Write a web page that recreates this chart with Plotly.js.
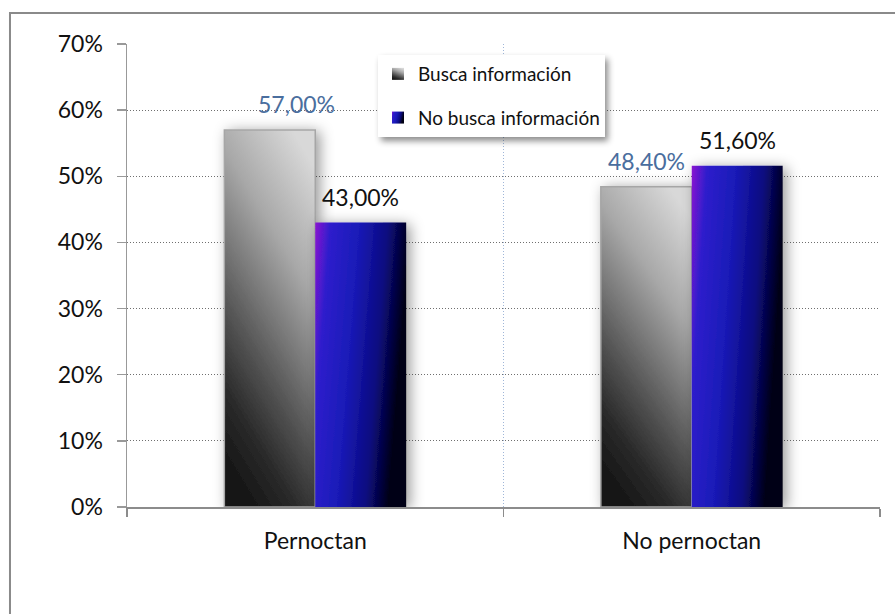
<!DOCTYPE html>
<html>
<head>
<meta charset="utf-8">
<script src="https://cdn.plot.ly/plotly-3.0.1.min.js"></script>
<style>
html,body{margin:0;padding:0;background:#fff;}
#chart{width:895px;height:614px;}
</style>
</head>
<body>
<div id="chart"></div>
<script>
// ---- data ----
var categories = ["Pernoctan", "No pernoctan"];
var seriesNames = ["Busca información", "No busca información"];
var buscaValues = [57.0, 48.4];
var noBuscaValues = [43.0, 51.6];
var yTickValues = [0, 10, 20, 30, 40, 50, 60, 70];
var yTickLabels = ["0%", "10%", "20%", "30%", "40%", "50%", "60%", "70%"];

// ---- style ----
var FONT = "Lato, 'Open Sans', sans-serif";
var BARGAP = 0.517;
var labelColors = ["#4a6e9e", "#111111"];
var labelXShift = [[27, 0], [0, 0]]; // per series, per category (px)

function fmt(v) { return v.toFixed(2).replace('.', ',') + '%'; }

var traces = [
  {
    type: 'bar', name: seriesNames[0], x: categories, y: buscaValues,
    legendgroup: 'a',
    marker: {color: '#808080', line: {color: '#a6a6a6', width: 1.5}},
    hoverinfo: 'skip'
  },
  {
    type: 'bar', name: seriesNames[1], x: categories, y: noBuscaValues,
    legendgroup: 'b',
    marker: {color: '#1a1ab0', line: {width: 0}},
    hoverinfo: 'skip'
  }
];

var halfOff = (1 - BARGAP) / 4;
var annotations = [];
[buscaValues, noBuscaValues].forEach(function (vals, s) {
  vals.forEach(function (v, i) {
    annotations.push({
      x: i + (s === 0 ? -halfOff : halfOff), y: v, xref: 'x', yref: 'y',
      text: fmt(v), showarrow: false, yanchor: 'middle', xanchor: 'center',
      yshift: 26, xshift: labelXShift[s][i],
      font: {family: FONT, size: 23, color: labelColors[s]}
    });
  });
});

var layout = {
  width: 895, height: 614,
  margin: {l: 127, r: 15, t: 44, b: 107, pad: 0},
  paper_bgcolor: '#ffffff', plot_bgcolor: '#ffffff',
  barmode: 'group', bargap: BARGAP, bargroupgap: 0,
  font: {family: FONT, size: 23, color: '#111111'},
  showlegend: true,
  legend: {
    x: 0.3333, y: 0.9762, xanchor: 'left', yanchor: 'top',
    bgcolor: '#ffffff', borderwidth: 0,
    font: {family: FONT, size: 19, color: '#111111'},
    tracegroupgap: 16, traceorder: 'grouped'
  },
  xaxis: {
    type: 'category', showline: true, linecolor: '#8c8c8c', linewidth: 2,
    ticks: 'outside', ticklen: 8, tickcolor: '#8c8c8c', tickwidth: 1.5,
    tickson: 'boundaries', showgrid: true, gridcolor: '#9fb6d8', griddash: '1px,2px', gridwidth: 1,
    ticklabelstandoff: 12, zeroline: false,
    tickfont: {family: FONT, size: 23, color: '#111111'}
  },
  yaxis: {
    range: [0, 70], tickvals: yTickValues, ticktext: yTickLabels,
    showline: true, linecolor: '#999999', linewidth: 1.5,
    ticks: 'outside', ticklen: 9, tickcolor: '#999999', tickwidth: 1.5,
    showgrid: true, gridcolor: '#6f6f6f', griddash: '1px,2px', gridwidth: 1,
    zeroline: false, ticklabelstandoff: 9,
    tickfont: {family: FONT, size: 23, color: '#111111'}
  },
  annotations: annotations,
  shapes: [{
    type: 'rect', xref: 'paper', yref: 'paper',
    x0: -0.1554, x1: 1.06, y0: -0.5, y1: 1.067,
    line: {color: '#8a8a8a', width: 2}, fillcolor: 'rgba(0,0,0,0)', layer: 'below'
  }]
};

var gd = document.getElementById('chart');

function svgEl(tag, attrs) {
  var e = document.createElementNS('http://www.w3.org/2000/svg', tag);
  for (var k in attrs) e.setAttribute(k, attrs[k]);
  return e;
}

function addDefs() {
  var svg = gd.querySelector('svg.main-svg');
  if (!svg || svg.querySelector('#gGray')) return;
  var defs = svg.querySelector('defs') || svg.insertBefore(svgEl('defs', {}), svg.firstChild);
  var g1 = svgEl('linearGradient', {id: 'gGray', x1: '0.75', y1: '0', x2: '0.35', y2: '1'});
  [['0', '#d8d8d8'], ['0.3', '#a8a8a8'], ['0.65', '#565656'], ['0.85', '#2a2a2a'], ['1', '#181818']].forEach(function (s) {
    g1.appendChild(svgEl('stop', {offset: s[0], 'stop-color': s[1]}));
  });
  var g2 = svgEl('linearGradient', {id: 'gBlue', x1: '0', y1: '0', x2: '1', y2: '0.25'});
  [['0', '#8a16d0'], ['0.16', '#2e1ccc'], ['0.45', '#1a1ab8'], ['0.75', '#0a0a80'], ['1', '#000012']].forEach(function (s) {
    g2.appendChild(svgEl('stop', {offset: s[0], 'stop-color': s[1]}));
  });
  var f1 = svgEl('filter', {id: 'barShadow', x: '-40%', y: '-20%', width: '180%', height: '140%'});
  f1.appendChild(svgEl('feDropShadow', {dx: '4', dy: '2', stdDeviation: '7', 'flood-color': '#000', 'flood-opacity': '0.4'}));
  var f2 = svgEl('filter', {id: 'legShadow', x: '-10%', y: '-20%', width: '130%', height: '160%'});
  f2.appendChild(svgEl('feDropShadow', {dx: '3', dy: '4', stdDeviation: '3', 'flood-color': '#000', 'flood-opacity': '0.45'}));
  defs.appendChild(g1); defs.appendChild(g2); defs.appendChild(f1); defs.appendChild(f2);
}

function styleMarks() {
  addDefs();
  var grads = ['url(#gGray)', 'url(#gBlue)'];
  var tr = gd.querySelectorAll('.barlayer .trace');
  tr.forEach(function (t, i) {
    t.querySelectorAll('path').forEach(function (p) {
      p.style.fill = grads[i];
      p.setAttribute('filter', 'url(#barShadow)');
    });
  });
  var lt = gd.querySelectorAll('.legend .traces');
  lt.forEach(function (t, i) {
    t.querySelectorAll('.legendpoints path').forEach(function (p) {
      p.style.fill = grads[i];
      p.style.stroke = 'none';
    });
  });
  var bg = gd.querySelector('.legend rect.bg');
  if (bg) bg.setAttribute('filter', 'url(#legShadow)');
}

Plotly.newPlot(gd, traces, layout, {staticPlot: true, displayModeBar: false}).then(function () {
  styleMarks();
  gd.on('plotly_afterplot', styleMarks);
});
</script>
</body>
</html>
